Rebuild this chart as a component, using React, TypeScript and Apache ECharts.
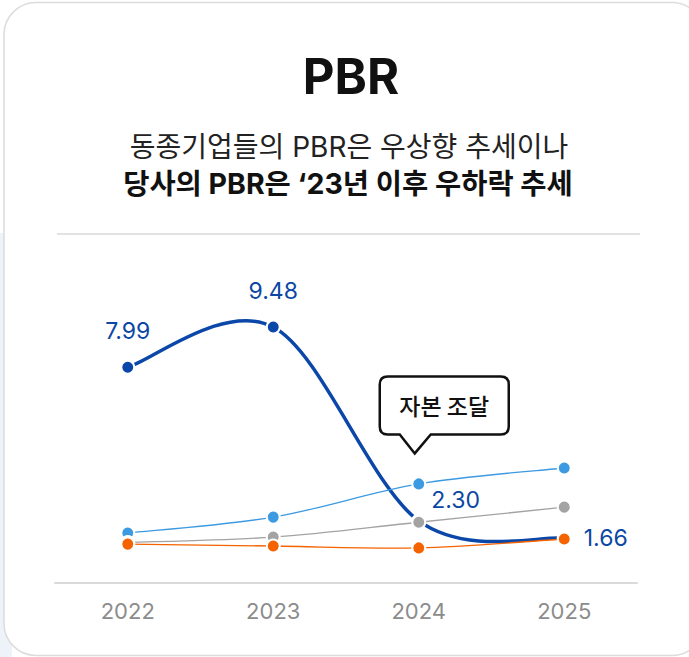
import React, { useEffect, useRef } from "react";
import * as echarts from "echarts";

const years = ["2022", "2023", "2024", "2025"];
const companyPBR = [7.99, 9.48, 2.3, 1.66];
const peerBluePBR = [1.85, 2.44, 3.67, 4.26];
const peerGrayPBR = [1.5, 1.7, 2.25, 2.81];
const peerOrangePBR = [1.44, 1.37, 1.3, 1.63];
const titleText = "PBR";
const subtitleLine1 = "동종기업들의 PBR은 우상향 추세이나";
const subtitleLine2 = "당사의 PBR은 ‘23년 이후 우하락 추세";
const calloutText = "자본 조달";
const calloutAnchor = ["2024", 4.8];

const FONT = "Inter, 'Noto Sans CJK KR', sans-serif";
const KFONT = "'Noto Sans CJK KR', Inter, sans-serif";

let registered = false;
function registerCallout() {
  if (registered) return;
  registered = true;
  const d =
    "M -27 -77 H 86 Q 94 -77 94 -69 V -27 Q 94 -19 86 -19 H 16 L 0 0 L -15 -19 H -27 Q -35 -19 -35 -27 V -69 Q -35 -77 -27 -77 Z";
  echarts.graphic.registerShape("calloutShape", echarts.graphic.extendPath(d, {}));
}

// Catmull-Rom (cardinal, tension 0) curve segments drawn through the axis scales
function curveSeries(name: string, values: number[], color: string, width: number, z: number) {
  return {
    name: name + " 곡선",
    type: "custom",
    z,
    silent: true,
    data: values.map((v, k) => [k, v]),
    encode: { x: 0, y: 1 },
    renderItem: (params: any, api: any) => {
      const i = params.dataIndex;
      const n = values.length;
      if (i >= n - 1) return { type: "group", children: [] };
      const pts = values.map((v, k) => api.coord([k, v]));
      const p0 = pts[Math.max(0, i - 1)];
      const p1 = pts[i];
      const p2 = pts[i + 1];
      const p3 = pts[Math.min(n - 1, i + 2)];
      return {
        type: "bezierCurve",
        shape: {
          x1: p1[0],
          y1: p1[1],
          x2: p2[0],
          y2: p2[1],
          cpx1: p1[0] + (p2[0] - p0[0]) / 6,
          cpy1: p1[1] + (p2[1] - p0[1]) / 6,
          cpx2: p2[0] - (p3[0] - p1[0]) / 6,
          cpy2: p2[1] - (p3[1] - p1[1]) / 6,
        },
        style: { stroke: color, lineWidth: width, fill: null, lineCap: "round" },
      };
    },
  };
}

function markerSeries(name: string, values: any[], color: string, z: number, label?: any) {
  return {
    name,
    type: "line",
    data: values,
    z,
    symbol: "circle",
    symbolSize: 13,
    lineStyle: { width: 0, opacity: 0 },
    itemStyle: { color, borderColor: "#fff", borderWidth: 2 },
    label: label || { show: false },
  };
}

export default function App() {
  const ref = useRef<HTMLDivElement>(null);
  useEffect(() => {
    if (!ref.current) return;
    registerCallout();
    const chart = echarts.init(ref.current, undefined, { renderer: "svg" });
    const companyData = companyPBR.map((v, i) => {
      if (i === 2)
        return { value: v, label: { position: "right", distance: 5, offset: [0, -21] } };
      if (i === 3) return { value: v, label: { position: "right", distance: 12 } };
      return v;
    });
    const option: any = {
      animation: false,
      backgroundColor: "transparent",
      grid: { left: 55, right: 52, top: 259, bottom: 74 },
      xAxis: {
        type: "category",
        data: years,
        boundaryGap: true,
        axisLine: { lineStyle: { color: "#dadada", width: 2 } },
        axisTick: { show: false },
        axisLabel: { color: "#8c8c8c", fontSize: 22, margin: 17, fontFamily: FONT },
      },
      yAxis: {
        type: "value",
        min: 0,
        max: 12,
        show: false,
        splitLine: { show: false },
      },
      series: [
        curveSeries("당사", companyPBR, "#0A47A9", 3.5, 2),
        markerSeries("당사", companyData, "#0A47A9", 3, {
          show: true,
          position: "top",
          distance: 17,
          color: "#0B47A3",
          fontSize: 23,
          fontFamily: FONT,
          formatter: (p: any) => Number(p.value).toFixed(2),
        }),
        curveSeries("동종기업 A", peerBluePBR, "#3B9AE1", 1.3, 4),
        curveSeries("동종기업 B", peerGrayPBR, "#A3A3A3", 1.3, 4),
        curveSeries("동종기업 C", peerOrangePBR, "#F56300", 1.3, 4),
        markerSeries("동종기업 A", peerBluePBR, "#3B9AE1", 5),
        markerSeries("동종기업 B", peerGrayPBR, "#A3A3A3", 5),
        markerSeries("동종기업 C", peerOrangePBR, "#F56300", 5),
      ],
    };
    chart.setOption(option);
    const tip = chart.convertToPixel({ gridIndex: 0 }, calloutAnchor as any) as number[];
    chart.setOption({
      graphic: [
        {
          type: "rect",
          z: -10,
          silent: true,
          shape: { x: 0, y: 233, width: 12, height: 424 },
          style: { fill: "#eef3fa" },
        },
        {
          type: "rect",
          z: -9,
          silent: true,
          shape: { x: 4, y: 2.5, width: 700, height: 653, r: 32 },
          style: { fill: "#ffffff", stroke: "#dcdcdc", lineWidth: 1.5 },
        },
        {
          type: "text",
          z: 5,
          style: {
            text: titleText,
            x: 351,
            y: 76,
            align: "center",
            verticalAlign: "middle",
            fontSize: 49,
            fontWeight: "bold",
            fontFamily: FONT,
            fill: "#111111",
          },
        },
        {
          type: "text",
          z: 5,
          style: {
            text: subtitleLine1,
            x: 349,
            y: 147,
            align: "center",
            verticalAlign: "middle",
            fontSize: 28,
            fontWeight: "normal",
            fontFamily: FONT,
            fill: "#222222",
          },
        },
        {
          type: "text",
          z: 5,
          style: {
            text: subtitleLine2,
            x: 348,
            y: 183,
            align: "center",
            verticalAlign: "middle",
            fontSize: 28.5,
            fontWeight: "bold",
            fontFamily: FONT,
            fill: "#111111",
          },
        },
        {
          type: "line",
          z: 5,
          shape: { x1: 57, y1: 234, x2: 640, y2: 234 },
          style: { stroke: "#d8d8d8", lineWidth: 1.5 },
        },
        {
          type: "calloutShape",
          z: 20,
          x: tip[0] - 4,
          y: tip[1],
          style: { fill: "#ffffff", stroke: "#111111", lineWidth: 2.5 },
        },
        {
          type: "text",
          z: 21,
          style: {
            text: calloutText,
            x: tip[0] - 4 + 29.5,
            y: tip[1] - 48,
            align: "center",
            verticalAlign: "middle",
            fontSize: 23,
            fontWeight: 500,
            fontFamily: KFONT,
            fill: "#111111",
          },
        },
      ],
    });
    return () => chart.dispose();
  }, []);
  return (
    <div
      ref={ref}
      style={{ position: "fixed", left: 0, top: 0, width: 689, height: 657, background: "#fff" }}
    />
  );
}
